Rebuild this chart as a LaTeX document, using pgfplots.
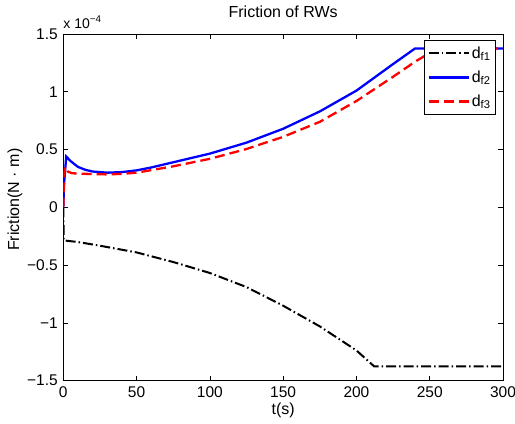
\documentclass[border=0pt]{standalone}
\usepackage{fontspec}
\setmainfont{Liberation Sans}
\usepackage{pgfplots}
\pgfplotsset{compat=1.18}
\begin{document}
\fontsize{16}{19}\selectfont
\begin{tikzpicture}
\begin{axis}[
  name=ax,
  scale only axis,
  width=439.7pt, height=346.7pt,
  xmin=0, xmax=300, ymin=-1.5, ymax=1.5,
  xtick={0,50,100,150,200,250,300},
  ytick={-1.5,-1,-0.5,0,0.5,1,1.5},
  yticklabels={−1.5,−1,−0.5,0,0.5,1,1.5},
  /pgf/number format/assume math mode=true,
  tick align=inside,
  major tick length=5pt,
  axis line style={line width=0.9pt},
  every tick/.style={line width=0.7pt, black},
  tick label style={font=\fontsize{15.5}{18}\selectfont},
  title={Friction of RWs},
  title style={font=\fontsize{16}{19}\selectfont, at={(axis description cs:0.5,1)}, anchor=base, yshift=11pt},
  xlabel={t(s)},
  ylabel={Friction(N · m)},
  xlabel style={font=\fontsize{16}{19}\selectfont, at={(axis description cs:0.5,0)}, anchor=base, yshift=-34pt},
  ylabel style={font=\fontsize{16}{19}\selectfont, at={(axis description cs:-0.11,0.522)}, anchor=center},
  legend style={at={(1,1)}, anchor=north east, xshift=-7pt, yshift=-6pt,
    draw=black, line width=0.9pt, font=\fontsize{16}{19}\selectfont,
    row sep=6pt, inner xsep=3pt, inner ysep=4pt},
  legend cell align=left,
  legend image code/.code={\draw[#1] (0pt,0pt) -- (40pt,0pt);},
]
\addplot[black, line width=2pt, dash pattern=on 10pt off 3pt on 1.5pt off 3pt] coordinates {
(0,0) (0.3,-0.286) (10,-0.30) (25,-0.332) (50,-0.39) (75,-0.473) (100,-0.568)
(125,-0.69) (150,-0.851) (175,-1.03) (200,-1.238) (212,-1.375) (300,-1.375)};
\addlegendentry{d\textsubscript{f1}}
\addplot[blue, line width=2.3pt] coordinates {
(0,0) (0.5,0.2) (2,0.44) (5,0.40) (10,0.35) (15,0.325) (20,0.31) (30,0.30)
(40,0.305) (50,0.32) (60,0.345) (75,0.39) (100,0.465) (125,0.56) (150,0.68)
(175,0.83) (200,1.01) (225,1.24) (240,1.375) (300,1.375)};
\addlegendentry{d\textsubscript{f2}}
\addplot[red, line width=2.3pt, dash pattern=on 10pt off 5pt] coordinates {
(0,0) (0.5,0.25) (1.2,0.35) (3,0.31) (6,0.295) (15,0.29) (30,0.285) (40,0.29)
(50,0.30) (75,0.355) (100,0.42) (125,0.505) (150,0.61) (175,0.74) (200,0.92)
(225,1.13) (240,1.26) (255,1.375) (300,1.375)};
\addlegendentry{d\textsubscript{f3}}
\end{axis}
\node[anchor=base west, inner sep=0pt, font=\fontsize{14}{16}\selectfont, yshift=6pt] at (ax.north west) {x 10\textsuperscript{−4}};
\pgfresetboundingbox
\path[use as bounding box] (-63.3pt,-43pt) rectangle (451.7pt,380.7pt);
\end{tikzpicture}
\end{document}
